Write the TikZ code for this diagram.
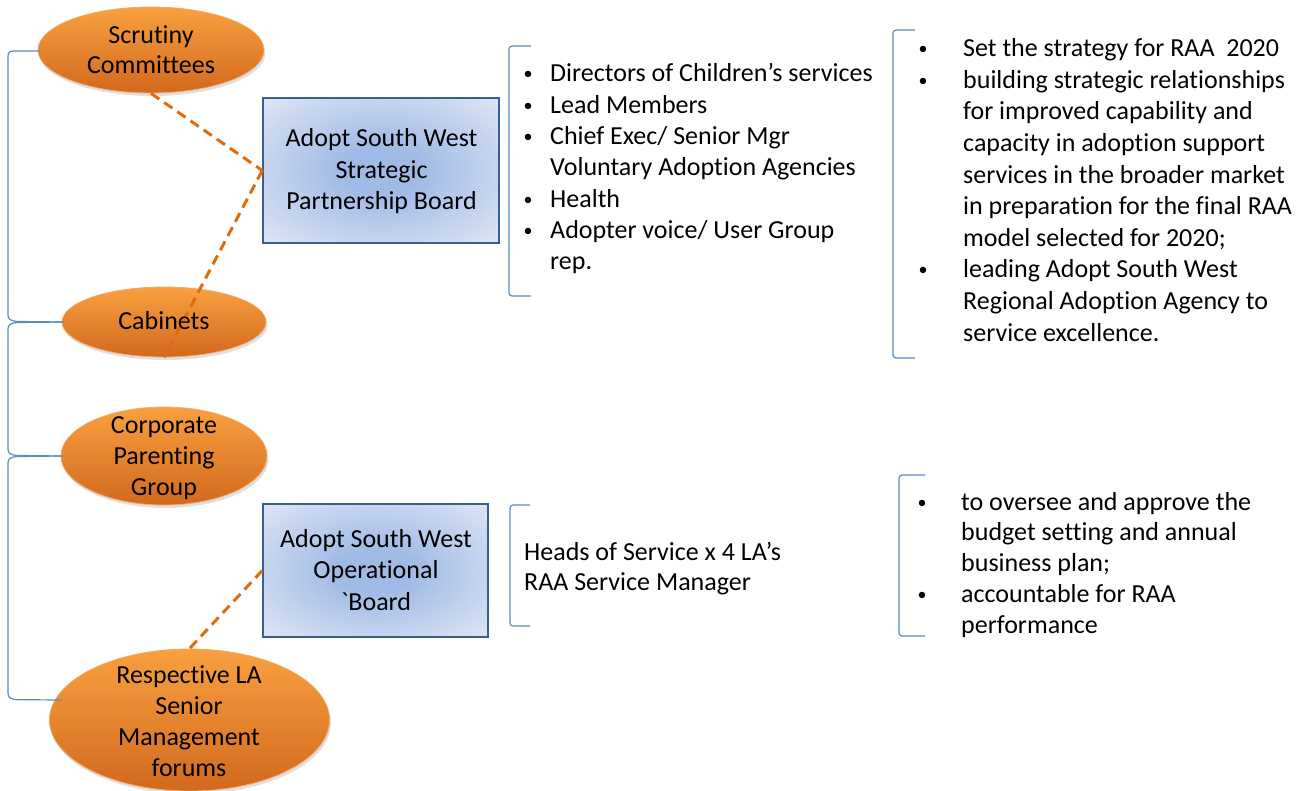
\documentclass[tikz,border=0pt]{standalone}
\usepackage{fontspec}
\setmainfont{Carlito}[Ligatures={TeX,NoCommon}]
\newfontfamily\rawcarlito{Carlito}[Ligatures=NoCommon]
\usetikzlibrary{shapes.geometric,shadows}

\definecolor{forumTop}{HTML}{F9A040}
\definecolor{forumMid}{HTML}{F58A25}
\definecolor{forumBot}{HTML}{D2691E}
\definecolor{forumRim}{HTML}{F6A865}
\definecolor{linkOrange}{HTML}{E36C0A}
\definecolor{boardInner}{HTML}{A0BAE6}
\definecolor{boardOuter}{HTML}{DAE3F3}
\definecolor{boardRim}{HTML}{3A5E8E}
\definecolor{braceBlue}{HTML}{5B8AC6}

% soft glow used to fill the boards
\pgfdeclareradialshading{boardglow}{\pgfpoint{0bp}{0bp}}{%
  color(0bp)=(boardInner); color(8bp)=(boardInner);
  color(22bp)=(boardInner!45!boardOuter); color(34bp)=(boardOuter);
  color(50bp)=(boardOuter)}

% small bullet hung to the left of the current line
\newcommand\bul[1]{\leavevmode\llap{\makebox[0pt]{\raisebox{2pt}{\fontsize{18}{18}\selectfont •}}\hspace{#1}}}

\begin{document}
\begin{tikzpicture}[x=1pt,y=-1pt,
  forum/.style={ellipse, draw=forumRim, line width=0.8pt, inner sep=0pt,
    top color=forumTop, middle color=forumMid, bottom color=forumBot,
    drop shadow={opacity=0.25, shadow xshift=1.5pt, shadow yshift=-3pt}},
  board/.style={rectangle, draw=boardRim, line width=1.5pt, inner sep=0pt,
    shading=boardglow},
  bodytext/.style={inner sep=0pt, text=black},
  lead/.style={bodytext, font=\fontsize{26}{31.3}\selectfont},
  brace/.style={draw=braceBlue, line width=1.2pt},
  bracket/.style={draw=braceBlue, line width=1.2pt, rounded corners=3pt},
  dashlink/.style={draw=linkOrange, line width=3pt, dash pattern=on 10pt off 6pt}]

\useasboundingbox (0,0) rectangle (1312,791);

% forums (left column)
\node[forum, minimum width=226pt, minimum height=86pt] (scr) at (151,50) {};
\node[forum, minimum width=204pt, minimum height=70pt] (cab) at (164,322) {};
\node[forum, minimum width=206pt, minimum height=98pt] (cor) at (164,456) {};
\node[forum, minimum width=280pt, minimum height=142pt] (res) at (189.5,720) {};

% boards
\node[board, minimum width=236pt, minimum height=145pt] (spb) at (381,170.5) {};
\node[board, minimum width=225pt, minimum height=133pt] (opb) at (375.5,570.5) {};

% dashed links between forums and boards
\draw[dashlink] (scr.south) -- (spb.west);
\draw[dashlink] (spb.west) -- (cab.south);
\draw[dashlink] (opb.west) -- (res.north);

% braces joining the forums on the left
\coordinate (scrL) at (40,51);
\coordinate (cabL) at (63,322);
\coordinate (corL) at (62,456);
\coordinate (resL) at (62,700);
\draw[brace] (scrL) -- (14,51) .. controls (9,51) and (8,53) .. (8,57)
  -- (8,315) .. controls (8,319) and (10,321) .. (18,321.5) -- (cabL);
\draw[brace] (cabL) -- (18,322.5) .. controls (10,323) and (8,325) .. (8,329)
  -- (8,449) .. controls (8,453) and (10,455) .. (18,455.5) -- (corL);
\draw[brace] (corL) -- (18,456.5) .. controls (10,457) and (8,459) .. (8,463)
  -- (8,693) .. controls (8,697) and (10,699.5) .. (18,699.7) -- (resL);

% brackets in front of the member and role lists
\draw[bracket] (531,46) -- (509,46) -- (509,296) -- (531,296);
\draw[bracket] (915,30) -- (893,30) -- (893,358) -- (915,358);
\draw[bracket] (530,505) -- (510,505) -- (510,626) -- (530,626);
\draw[bracket] (925,475) -- (899,475) -- (899,636) -- (925,636);

% forum labels
\node[lead, anchor=base] (scrT) at (151,44)
  {\parbox[t]{300pt}{\centering\fontsize{26}{30}\selectfont Scrutiny\\Committees}};
\node[lead, anchor=base] (cabT) at (164,330) {Cabinets};
\node[lead, anchor=base] (corT) at (164,434)
  {\parbox[t]{300pt}{\centering\fontsize{26}{31}\selectfont Corporate\\Parenting\\Group}};
\node[lead, anchor=base] (resT) at (189,683)
  {\parbox[t]{300pt}{\centering\fontsize{26}{31.3}\selectfont Respective LA\\Senior\\Management\\forums}};

% board labels
\node[lead, anchor=base] (spbT) at (381.5,147)
  {\parbox[t]{300pt}{\centering\fontsize{26}{31.5}\selectfont Adopt South West\\Strategic\\Partnership Board}};
\node[lead, anchor=base] (opbT) at (376,547)
  {\parbox[t]{300pt}{\centering\fontsize{26}{31.5}\selectfont Adopt South West\\Operational\\{\rawcarlito`}Board}};

% membership lists
\node[lead, anchor=base west] (members) at (550,82)
  {\parbox[t]{340pt}{\raggedright\fontsize{26}{31.33}\selectfont
    \bul{22pt}Directors of Children’s services\\
    \bul{22pt}Lead Members\\
    \bul{22pt}Chief Exec/ Senior Mgr\\
    Voluntary Adoption Agencies\\
    \bul{22pt}Health\\
    \bul{22pt}Adopter voice/ User Group\\
    rep.}};
\node[lead, anchor=base west] (heads) at (524,560)
  {\parbox[t]{340pt}{\raggedright\fontsize{26}{30}\selectfont
    Heads of Service x 4 LA’s\\
    RAA Service Manager}};

% remits
\node[lead, anchor=base west] (remitS) at (963,56.7)
  {\parbox[t]{345pt}{\raggedright\fontsize{26}{31.6}\selectfont
    \bul{40pt}Set the strategy for RAA\ \ 2020\\
    \bul{40pt}building strategic relationships\\
    for improved capability and\\
    capacity in adoption support\\
    services in the broader market\\
    in preparation for the final RAA\\
    model selected for 2020;\\
    \bul{40pt}leading Adopt South West\\
    Regional Adoption Agency to\\
    service excellence.}};
\node[lead, anchor=base west] (remitO) at (961,510)
  {\parbox[t]{345pt}{\raggedright\fontsize{26}{30.8}\selectfont
    \bul{39pt}to oversee and approve the\\
    budget setting and annual\\
    business plan;\\
    \bul{39pt}accountable for RAA\\
    performance}};

\end{tikzpicture}
\end{document}
